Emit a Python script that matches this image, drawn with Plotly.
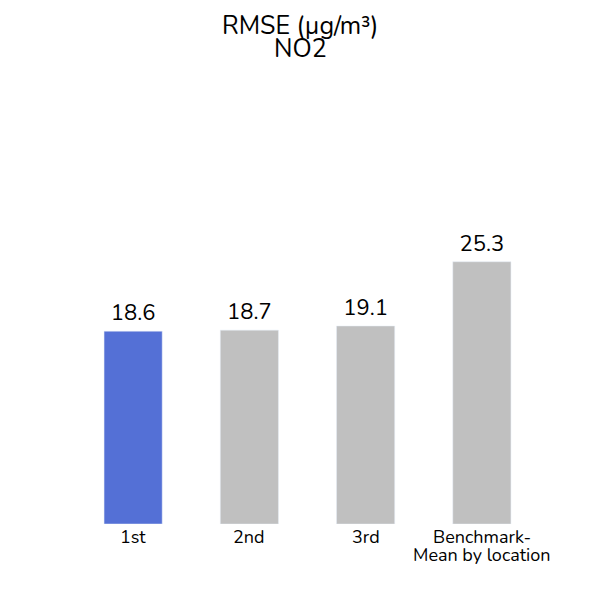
import plotly.graph_objects as go

categories = ["1st", "2nd", "3rd", "Benchmark-<br>Mean by location"]
values = [18.6, 18.7, 19.1, 25.3]
colors = ["#5470d6", "#c0c0c0", "#c0c0c0", "#c0c0c0"]
labels = ["18.6", "18.7", "19.1", "25.3"]
title_lines = ["RMSE (µg/m³)", "NO2"]

FONT = "Nunito, Noto Sans, sans-serif"

fig = go.Figure(go.Bar(
    x=categories, y=values, marker_color=colors, width=0.5,
    text=labels, textposition="outside", textfont=dict(size=22, color="black"),
    cliponaxis=False,
))

annotations = []
# title lines: tight line spacing like the reference
title_shift = [187.5, 164.5]
for line, ys in zip(title_lines, title_shift):
    annotations.append(dict(
        text=line, xref="paper", yref="paper", x=0.4839, y=1, xanchor="center",
        yanchor="middle", yshift=ys, showarrow=False,
        font=dict(size=25, color="black", family=FONT),
    ))
# category labels: one annotation per line, tight spacing
label_shift = [-13, -31]
for cat in categories:
    for j, line in enumerate(cat.split("<br>")):
        annotations.append(dict(
            text=line, x=cat, xref="x", yref="paper", y=0, xanchor="center",
            yanchor="middle", yshift=label_shift[j], showarrow=False,
            font=dict(size=18, color="black", family=FONT),
        ))

fig.update_layout(
    width=600, height=600,
    font=dict(family=FONT, color="black"),
    plot_bgcolor="white", paper_bgcolor="white",
    margin=dict(l=67, r=68, t=205, b=84),
    showlegend=False,
    annotations=annotations,
    xaxis=dict(range=[-0.5, len(categories) - 0.5], autorange=False,
               showgrid=False, showline=False, showticklabels=False, ticks=""),
    yaxis=dict(range=[0, 30], visible=False, showgrid=False),
)
fig.write_html("out.html")
